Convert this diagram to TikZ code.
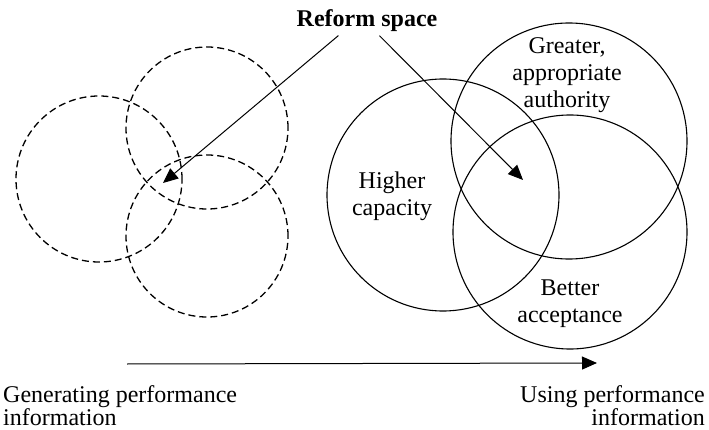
\documentclass[tikz,border=0pt]{standalone}
\usepackage{fontspec}
\setmainfont{Liberation Serif}
\usepackage{tikz}
\usetikzlibrary{arrows.meta}

\begin{document}
\begin{tikzpicture}[x=1pt,y=-1pt,
    dashcirc/.style={circle,draw,dash pattern=on 7pt off 4pt,line width=1.3pt,inner sep=0pt},
    ringcirc/.style={circle,draw,line width=1.1pt,inner sep=0pt},
    arr/.style={-{Triangle[length=15pt,width=13pt]},line width=1pt},
    lbl/.style={font=\fontsize{24}{27}\selectfont,align=center,inner sep=0pt},
    botlbl/.style={font=\fontsize{24}{21}\selectfont,inner sep=0pt}]
    \useasboundingbox (0,0) rectangle (709,430);

    % Generating side: three loose dashed circles
    \node[dashcirc,minimum size=166pt] (genA) at (99,179) {};
    \node[dashcirc,minimum size=162pt] (genB) at (207,128) {};
    \node[dashcirc,minimum size=162pt] (genC) at (207,236) {};

    % Using side: three solid circles
    \node[ringcirc,minimum size=232pt] (capacity) at (443,195) {};
    \node[ringcirc,minimum size=236pt] (authority) at (569,141) {};
    \node[ringcirc,minimum size=234pt] (acceptance) at (570,232) {};

    \node[lbl] (caplbl) at (392,196) {Higher\\capacity};
    \node[lbl] (authlbl) at (567,75) {Greater,\\appropriate\\authority};
    \node[lbl] (acclbl) at (570,304) {Better\\acceptance};

    % Reform space pointers
    \node[lbl,font=\fontsize{24}{27}\selectfont\bfseries,inner sep=2pt,anchor=base] (rs) at (367,27) {Reform space};
    \coordinate (tipgen) at (163,183);
    \coordinate (tipuse) at (523,180);
    \draw[arr,shorten <=2pt] (rs.206) -- (tipgen);
    \draw[arr,shorten <=2pt] (rs.310) -- (tipuse);

    % Bottom axis
    \coordinate (axstart) at (127,364);
    \coordinate (axend) at (597,363);
    \draw[arr] (axstart) -- (axend);
    \node[botlbl,align=left,anchor=north west] (genlbl) at (3,385) {Generating performance\\information};
    \node[botlbl,align=right,anchor=north east] (uselbl) at (705,385) {Using performance\\information};
\end{tikzpicture}
\end{document}
